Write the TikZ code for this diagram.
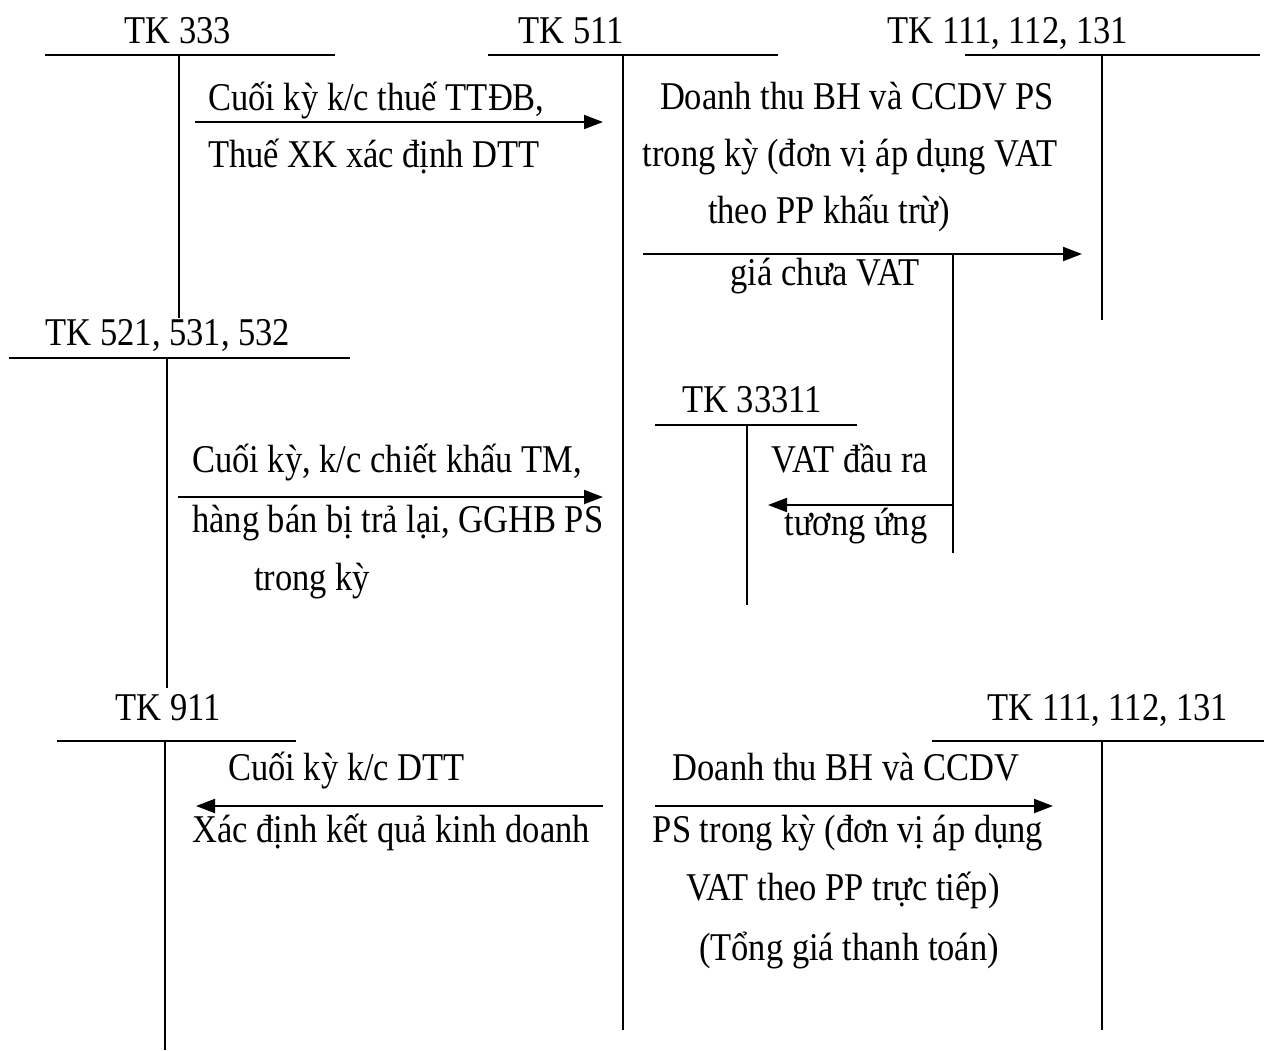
\documentclass[tikz,border=0pt]{standalone}
\usepackage{fontspec}
\setmainfont{Liberation Serif}
\usetikzlibrary{arrows.meta}
\begin{document}
\begin{tikzpicture}[x=1pt,y=-1pt,
  txt/.style={font=\fontsize{34.5pt}{40pt}\selectfont, inner sep=0pt, anchor=base, yscale=1.14, transform shape},
  ltxt/.style={txt, anchor=base west},
  tline/.style={line width=1.8pt},
  flow/.style={line width=2pt, -{Triangle[length=19pt,width=14pt]}}]
\useasboundingbox (0,0) rectangle (1264,1050);

% ---- T-accounts ----
% TK 333
\node[txt] (l333) at (178,43) {TK 333};
\coordinate (h333a) at (45,55); \coordinate (h333b) at (335,55);
\coordinate (v333t) at (179,55); \coordinate (v333b) at (179,318);
\draw[tline] (h333a) -- (h333b); \draw[tline] (v333t) -- (v333b);
% TK 511
\node[txt] (l511) at (571,43) {TK 511};
\coordinate (h511a) at (488,55); \coordinate (h511b) at (778,55);
\coordinate (v511t) at (623,55); \coordinate (v511b) at (623,1030);
\draw[tline] (h511a) -- (h511b); \draw[tline] (v511t) -- (v511b);
% TK 111,112,131 top
\node[txt] (l111a) at (1008,43) {TK 111, 112, 131};
\coordinate (h111aa) at (965,55); \coordinate (h111ab) at (1260,55);
\coordinate (v111at) at (1102,55); \coordinate (v111ab) at (1102,320);
\draw[tline] (h111aa) -- (h111ab); \draw[tline] (v111at) -- (v111ab);
% TK 521,531,532
\node[txt] (l521) at (168,345) {TK 521, 531, 532};
\coordinate (h521a) at (9,358); \coordinate (h521b) at (350,358);
\coordinate (v521t) at (167,358); \coordinate (v521b) at (167,688);
\draw[tline] (h521a) -- (h521b); \draw[tline] (v521t) -- (v521b);
% TK 33311
\node[txt] (l33311) at (752,412) {TK 33311};
\coordinate (h33311a) at (655,425); \coordinate (h33311b) at (857,425);
\coordinate (v33311t) at (747,425); \coordinate (v33311b) at (747,605);
\draw[tline] (h33311a) -- (h33311b); \draw[tline] (v33311t) -- (v33311b);
% TK 911
\node[txt] (l911) at (168,720) {TK 911};
\coordinate (h911a) at (57,741); \coordinate (h911b) at (296,741);
\coordinate (v911t) at (165,741); \coordinate (v911b) at (165,1050);
\draw[tline] (h911a) -- (h911b); \draw[tline] (v911t) -- (v911b);
% TK 111,112,131 bottom
\node[txt] (l111b) at (1108,720) {TK 111, 112, 131};
\coordinate (h111ba) at (932,741); \coordinate (h111bb) at (1264,741);
\coordinate (v111bt) at (1102,741); \coordinate (v111bb) at (1102,1030);
\draw[tline] (h111ba) -- (h111bb); \draw[tline] (v111bt) -- (v111bb);

% ---- flows ----
\coordinate (a1s) at (195,122); \coordinate (a1e) at (603,122);
\draw[flow] (a1s) -- (a1e);
\node[ltxt] (t1a) at (208,110) {Cuối kỳ k/c thuế TTĐB,};
\node[ltxt] (t1b) at (208,167) {Thuế XK xác định DTT};

\coordinate (a2s) at (643,254); \coordinate (a2e) at (1082,254);
\draw[flow] (a2s) -- (a2e);
\node[txt] (t2a) at (857,109) {Doanh thu BH và CCDV PS};
\node[txt] (t2b) at (850,166) {trong kỳ (đơn vị áp dụng VAT};
\node[txt] (t2c) at (829,223) {theo PP khấu trừ)};
\node[txt] (t2d) at (825,285) {giá chưa VAT};

\coordinate (v2t) at (953,254); \coordinate (v2b) at (953,553);
\draw[tline] (v2t) -- (v2b);
\coordinate (a3s) at (953,505); \coordinate (a3e) at (768,505);
\draw[flow] (a3s) -- (a3e);
\node[txt] (t3a) at (850,472) {VAT đầu ra};
\node[txt] (t3b) at (856,535) {tương ứng};

\coordinate (a4s) at (178,497); \coordinate (a4e) at (603,497);
\draw[flow] (a4s) -- (a4e);
\node[ltxt] (t4a) at (192,472) {Cuối kỳ, k/c chiết khấu TM,};
\node[ltxt] (t4b) at (192,532) {hàng bán bị trả lại, GGHB PS};
\node[ltxt] (t4c) at (254,590) {trong kỳ};

\coordinate (a5s) at (603,806); \coordinate (a5e) at (196,806);
\draw[flow] (a5s) -- (a5e);
\node[ltxt] (t5a) at (228,780) {Cuối kỳ k/c DTT};
\node[ltxt] (t5b) at (192,842) {Xác định kết quả kinh doanh};

\coordinate (a6s) at (655,806); \coordinate (a6e) at (1053,806);
\draw[flow] (a6s) -- (a6e);
\node[txt] (t6a) at (846,780) {Doanh thu BH và CCDV};
\node[txt] (t6b) at (848,842) {PS trong kỳ (đơn vị áp dụng};
\node[txt] (t6c) at (843,900) {VAT theo PP trực tiếp)};
\node[txt] (t6d) at (849,960) {(Tổng giá thanh toán)};
\end{tikzpicture}
\end{document}
